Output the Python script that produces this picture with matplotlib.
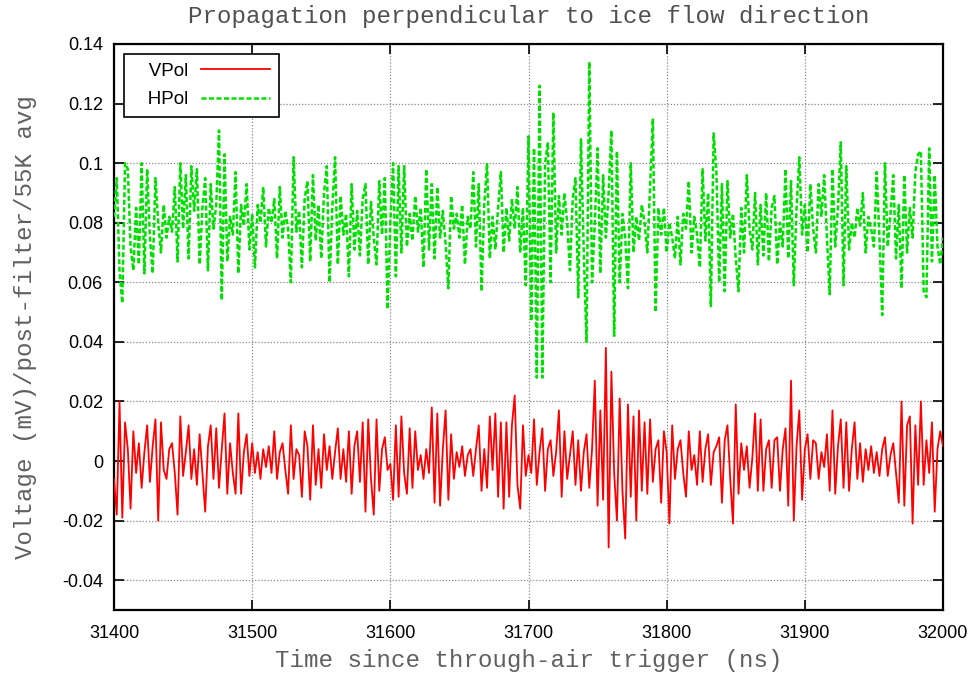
import numpy as np
import matplotlib
matplotlib.use("Agg")
import matplotlib.pyplot as plt
from matplotlib.ticker import FixedLocator, FuncFormatter

# time axis: 2 ns sampling from 31400 to 32000 ns
t_start, t_stop, t_step = 31400, 32000, 2
time_ns = np.arange(t_start, t_stop + t_step, t_step)

vpol = [
    -0.006, -0.018, 0.020, -0.019, 0.013, 0.004, -0.016, 0.010, -0.004, 0.006,
    -0.009, 0.003, 0.012, -0.007, 0.005, 0.014, -0.020, 0.013, -0.003, -0.006,
    0.004, 0.006, -0.004, -0.018, 0.015, -0.005, 0.003, 0.012, -0.006, 0.004,
    -0.008, 0.009, -0.004, -0.017, 0.005, 0.012, -0.006, 0.011, -0.009, 0.004,
    0.016, -0.011, 0.006, -0.004, -0.011, 0.016, -0.011, 0.003, 0.009, -0.005,
    0.006, -0.004, 0.003, -0.006, 0.004, -0.002, 0.005, -0.004, 0.010, -0.006,
    0.003, 0.006, -0.003, -0.011, 0.012, -0.006, 0.004, 0.002, -0.012, 0.010,
    0.005, -0.013, 0.012, -0.008, 0.004, -0.009, 0.009, -0.003, 0.005, -0.006,
    0.003, 0.011, -0.006, 0.004, -0.007, 0.010, -0.011, 0.005, 0.010, -0.007,
    0.013, -0.017, 0.014, -0.006, -0.018, 0.014, -0.010, 0.004, 0.008, -0.003,
    -0.001, -0.013, 0.012, -0.012, 0.015, -0.004, -0.011, 0.011, -0.009, 0.010,
    -0.003, 0.002, -0.006, 0.004, -0.004, 0.018, -0.014, 0.016, -0.015, 0.004,
    0.017, -0.013, 0.009, -0.006, 0.003, -0.002, 0.005, -0.005, 0.002, 0.004,
    -0.005, 0.004, 0.012, -0.010, 0.004, -0.009, 0.015, -0.003, 0.016, -0.012,
    0.013, -0.016, 0.013, -0.012, 0.012, 0.022, -0.008, -0.016, 0.012, -0.005,
    0.002, -0.004, 0.014, -0.008, 0.003, 0.011, -0.010, 0.004, 0.007, -0.005,
    0.003, 0.017, -0.012, 0.010, -0.006, 0.002, 0.010, -0.008, 0.007, -0.010,
    0.003, 0.009, -0.009, 0.004, 0.027, -0.015, 0.017, -0.013, 0.038, -0.029,
    0.030, -0.004, -0.020, 0.021, -0.010, -0.026, 0.019, -0.012, 0.015, -0.020,
    0.017, -0.010, 0.013, -0.011, 0.014, -0.007, 0.004, 0.007, -0.014, 0.010,
    0.003, -0.021, 0.012, -0.006, 0.004, 0.007, -0.004, -0.012, 0.010, -0.003,
    0.002, -0.008, 0.010, -0.007, 0.004, 0.009, -0.008, 0.003, 0.005, 0.008,
    -0.014, 0.007, 0.012, -0.006, -0.021, 0.019, -0.011, 0.006, -0.003, 0.005,
    -0.009, 0.001, 0.016, -0.010, 0.014, -0.010, 0.004, 0.007, -0.009, 0.007,
    0.008, -0.010, 0.004, 0.011, -0.015, 0.027, -0.020, 0.005, 0.017, -0.013,
    0.004, 0.009, -0.006, 0.007, 0.006, -0.006, 0.003, -0.002, 0.009, -0.010,
    0.017, -0.011, 0.005, 0.014, -0.009, 0.013, -0.010, 0.004, 0.013, -0.006,
    0.006, -0.007, 0.004, -0.003, 0.005, -0.004, 0.003, -0.005, 0.004, 0.008,
    -0.005, 0.002, 0.006, -0.004, -0.014, 0.020, -0.015, 0.012, 0.015, -0.021,
    0.012, -0.008, 0.020, -0.008, 0.007, -0.004, 0.013, -0.017, 0.004, 0.010,
    0.005,
]

hpol = [
    0.082, 0.095, 0.064, 0.053, 0.100, 0.098, 0.072, 0.064, 0.085, 0.066,
    0.100, 0.063, 0.098, 0.075, 0.063, 0.095, 0.080, 0.070, 0.086, 0.075,
    0.082, 0.077, 0.092, 0.067, 0.100, 0.078, 0.096, 0.068, 0.099, 0.084,
    0.098, 0.066, 0.085, 0.095, 0.064, 0.093, 0.078, 0.086, 0.111, 0.054,
    0.103, 0.067, 0.082, 0.076, 0.097, 0.063, 0.086, 0.079, 0.093, 0.071,
    0.083, 0.065, 0.086, 0.080, 0.092, 0.072, 0.085, 0.080, 0.088, 0.068,
    0.092, 0.075, 0.084, 0.078, 0.060, 0.102, 0.077, 0.084, 0.065, 0.088,
    0.094, 0.067, 0.096, 0.074, 0.086, 0.068, 0.090, 0.099, 0.060, 0.085,
    0.102, 0.066, 0.089, 0.076, 0.083, 0.062, 0.093, 0.071, 0.084, 0.069,
    0.088, 0.093, 0.066, 0.087, 0.075, 0.066, 0.094, 0.076, 0.095, 0.051,
    0.080, 0.100, 0.062, 0.099, 0.070, 0.099, 0.072, 0.083, 0.074, 0.089,
    0.077, 0.085, 0.065, 0.098, 0.071, 0.093, 0.068, 0.092, 0.075, 0.084,
    0.073, 0.058, 0.089, 0.078, 0.083, 0.075, 0.086, 0.066, 0.082, 0.078,
    0.097, 0.072, 0.093, 0.057, 0.086, 0.100, 0.068, 0.082, 0.071, 0.085,
    0.097, 0.070, 0.085, 0.074, 0.088, 0.078, 0.092, 0.070, 0.085, 0.059,
    0.109, 0.047, 0.105, 0.028, 0.126, 0.028, 0.100, 0.107, 0.060, 0.117,
    0.070, 0.089, 0.076, 0.090, 0.080, 0.064, 0.088, 0.095, 0.055, 0.108,
    0.070, 0.040, 0.134, 0.060, 0.080, 0.105, 0.063, 0.096, 0.075, 0.090,
    0.111, 0.042, 0.104, 0.060, 0.083, 0.075, 0.058, 0.100, 0.070, 0.082,
    0.074, 0.086, 0.080, 0.070, 0.092, 0.115, 0.050, 0.085, 0.076, 0.085,
    0.070, 0.080, 0.075, 0.068, 0.082, 0.066, 0.083, 0.078, 0.094, 0.070,
    0.082, 0.076, 0.065, 0.098, 0.074, 0.090, 0.052, 0.110, 0.097, 0.060,
    0.093, 0.057, 0.094, 0.075, 0.083, 0.068, 0.057, 0.085, 0.070, 0.096,
    0.078, 0.071, 0.090, 0.066, 0.086, 0.069, 0.090, 0.067, 0.085, 0.089,
    0.066, 0.080, 0.072, 0.098, 0.068, 0.094, 0.059, 0.085, 0.102, 0.076,
    0.086, 0.070, 0.093, 0.078, 0.070, 0.093, 0.082, 0.096, 0.075, 0.056,
    0.098, 0.072, 0.085, 0.107, 0.059, 0.099, 0.071, 0.080, 0.075, 0.085,
    0.079, 0.090, 0.070, 0.082, 0.078, 0.072, 0.097, 0.075, 0.049, 0.100,
    0.072, 0.083, 0.096, 0.068, 0.086, 0.058, 0.096, 0.070, 0.085, 0.075,
    0.097, 0.103, 0.104, 0.057, 0.055, 0.105, 0.067, 0.096, 0.072, 0.066,
    0.075,
]

x_ticks = [31400, 31500, 31600, 31700, 31800, 31900, 32000]
y_ticks = [-0.04, -0.02, 0.0, 0.02, 0.04, 0.06, 0.08, 0.10, 0.12, 0.14]

title = "Propagation perpendicular to ice flow direction"
xlabel = "Time since through-air trigger (ns)"
ylabel = "Voltage (mV)/post-filter/55K avg"

mono = ["Liberation Mono", "DejaVu Sans Mono"]
sans = ["Liberation Sans", "DejaVu Sans"]

fig = plt.figure(figsize=(9.71, 6.74), dpi=100)
ax = fig.add_axes([114 / 971, 1 - 610 / 674, (943 - 114) / 971, (610 - 44) / 674])

ax.plot(time_ns, vpol, color="#ff0000", lw=1.3, label="   VPol", zorder=3)
ax.plot(time_ns, hpol, color="#00e000", lw=1.8, ls=(0, (2.0, 1.0)), label="   HPol", zorder=3)

ax.set_xlim(31400, 32000)
ax.set_ylim(-0.05, 0.14)

ax.xaxis.set_major_locator(FixedLocator(x_ticks))
ax.yaxis.set_major_locator(FixedLocator(y_ticks))


def gfmt(v, pos=None):
    r = round(v, 6)
    if r == 0:
        return "0"
    return f"{r:g}"


ax.yaxis.set_major_formatter(FuncFormatter(gfmt))
ax.xaxis.set_major_formatter(FuncFormatter(lambda v, p: f"{int(round(v))}"))

ax.tick_params(axis="both", which="major", direction="in", length=7, width=1.2,
               top=True, right=True, labelsize=13, colors="black")
ax.tick_params(axis="x", pad=11)
ax.tick_params(axis="y", pad=8)
for lab in ax.get_xticklabels() + ax.get_yticklabels():
    lab.set_family(sans)

ax.grid(True, color="#8a8a8a", ls=(0, (1, 1.5)), lw=0.9)
for s in ax.spines.values():
    s.set_linewidth(1.6)
    s.set_color("black")

ax.set_title(title, family=mono, fontsize=17.4, color="#505050", pad=15)
ax.set_xlabel(xlabel, family=mono, fontsize=17.4, color="#606060", labelpad=5)
ax.set_ylabel(ylabel, family=mono, fontsize=17.4, color="#606060", labelpad=18)

leg = ax.legend(loc="upper left", bbox_to_anchor=(0.012, 0.982), markerfirst=False,
                fancybox=False, frameon=True, framealpha=1, edgecolor="black",
                prop={"family": sans, "size": 13.5}, handlelength=3.7,
                borderpad=0.45, labelspacing=0.6, handletextpad=0.65, borderaxespad=0)
leg.get_frame().set_linewidth(1.2)
leg.set_zorder(5)

fig.savefig("out.png", dpi=100)
